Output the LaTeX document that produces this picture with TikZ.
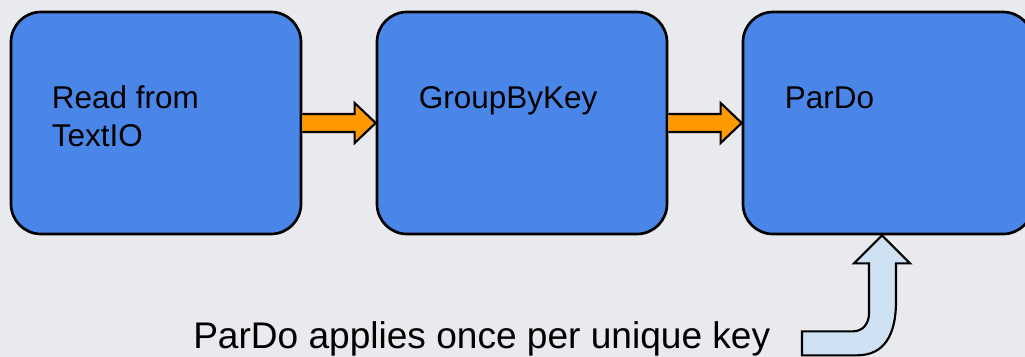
\documentclass[tikz,border=0pt]{standalone}
\usepackage{fontspec}
\setmainfont{Liberation Sans}
\usetikzlibrary{positioning,calc}

\definecolor{pagegray}{RGB}{232,234,237}
\definecolor{stageblue}{RGB}{74,134,232}
\definecolor{flowamber}{RGB}{255,153,0}
\definecolor{noteblue}{RGB}{207,226,243}

\tikzset{
  stagebox/.style={draw=black, fill=stageblue, line width=2pt, rounded corners=22.5pt,
    minimum width=217.5pt, minimum height=166.5pt, inner sep=0pt},
  stagetext/.style={anchor=base west, align=left, inner sep=0pt,
    font=\fontsize{23.6}{28.5}\selectfont},
  flowarrow/.style={draw=black, fill=flowamber, line width=1.6pt, line join=miter},
  notearrow/.style={draw=black, fill=noteblue, line width=1.6pt, line join=miter},
}

\begin{document}
\begin{tikzpicture}[x=0.75pt,y=0.75pt,yscale=-1,xscale=1, node distance=55pt]
                %set diagram size 1025 x 357
                \useasboundingbox (0,0) rectangle (1025,357);
                \fill [pagegray] (0,0) rectangle (1025,357);
                
                %Rounded Rect
                \node [stagebox] (read) at (156,123) {};
                %Rounded Rect
                \node [stagebox, right=of read] (group) {};
                %Rounded Rect
                \node [stagebox, right=of group] (pardo) {};
                
                % Text Node (base sits on the last line)
                \node [stagetext] (readlabel) at ($(read.north west)+(42,136)$) {Read from\\TextIO};
                % Text Node
                \node [stagetext] (grouplabel) at ($(group.north west)+(43,98)$) {GroupByKey};
                % Text Node
                \node [stagetext] (pardolabel) at ($(pardo.north west)+(43,98)$) {ParDo};
                
                %Right Arrow
                \filldraw [flowarrow] ($(read.east)+(0,-9)$) -- ($(group.west)+(-21,-9)$) -- ($(group.west)+(-21,-20)$) -- (group.west)
                    -- ($(group.west)+(-21,20)$) -- ($(group.west)+(-21,9)$) -- ($(read.east)+(0,9)$) ;
                %Right Arrow
                \filldraw [flowarrow] ($(group.east)+(0,-9)$) -- ($(pardo.west)+(-21,-9)$) -- ($(pardo.west)+(-21,-20)$) -- (pardo.west)
                    -- ($(pardo.west)+(-21,20)$) -- ($(pardo.west)+(-21,9)$) -- ($(group.east)+(0,9)$) ;
                
                % Text Node
                \node [anchor=base west, inner sep=0pt, font=\fontsize{27.8}{33}\selectfont] (note) at (193,348) {ParDo applies once per unique key};
                
                %Bent Up Arrow
                \begin{scope}[shift={(pardo.south)}]
                \filldraw [notearrow] (-6,0) -- (22,28) -- (8,28) -- (8,66) .. controls (8,100) and (-4,120) .. (-31,120)
                    -- (-86,120) -- (-86,96) -- (-35,96) .. controls (-25,96) and (-19,88) .. (-19,78) -- (-19,28) -- (-34,28) -- cycle ;
                \end{scope}
                
\end{tikzpicture}
\end{document}
